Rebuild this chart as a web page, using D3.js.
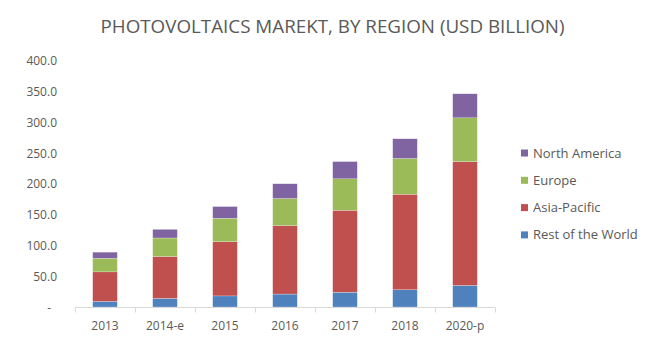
<!DOCTYPE html>
<html><head><meta charset="utf-8">
<script src="https://cdn.jsdelivr.net/npm/d3@7"></script>
<style>body{margin:0;background:#fff;}svg{display:block;font-family:"Open Sans",sans-serif;}</style>
</head><body>
<svg id="chart" width="647" height="358"></svg>
<script>
const categories = ["2013","2014-e","2015","2016","2017","2018","2020-p"];
const seriesNames = ["Rest of the World","Asia-Pacific","Europe","North America"];
const restOfWorld  = [9, 14, 18, 21, 24, 28, 35];
const asiaPacific  = [48, 68, 88, 111, 133, 155, 201];
const europe       = [22, 30, 38, 44, 51, 58, 71];
const northAmerica = [10, 14, 19, 24, 28, 32, 39];
const yTicks = [0, 50, 100, 150, 200, 250, 300, 350, 400];
const colors = ["#4F81BD","#C0504D","#9BBB59","#8064A2"];

const svg = d3.select("#chart");
const x = d3.scaleBand().domain(categories).range([75, 495]).paddingInner(0.59).paddingOuter(0.295);
const y = d3.scaleLinear().domain([0, 400]).range([307, 60.5]);

const table = categories.map((c, i) => ({cat: c,
  "Rest of the World": restOfWorld[i], "Asia-Pacific": asiaPacific[i],
  "Europe": europe[i], "North America": northAmerica[i]}));
const stacked = d3.stack().keys(seriesNames)(table);

svg.append("text").attr("x", 332.5).attr("y", 33).attr("text-anchor", "middle")
  .attr("font-size", 19).attr("fill", "#595959")
  .attr("textLength", 464).attr("lengthAdjust", "spacingAndGlyphs")
  .text("PHOTOVOLTAICS MAREKT, BY REGION (USD BILLION)");

// y axis labels
const yAxis = d3.axisLeft(y).tickValues(yTicks).tickSize(0)
  .tickFormat(d => d === 0 ? "-" : d3.format(".1f")(d));
const gy = svg.append("g").attr("transform", "translate(57,0)").call(yAxis);
gy.select(".domain").remove();
gy.selectAll("text").attr("font-size", 12).attr("fill", "#595959")
  .attr("font-family", "Open Sans").attr("x", d => d === 0 ? -6 : 0).attr("dy", "0.35em");

// bars
svg.append("g").selectAll("g").data(stacked).join("g")
  .attr("fill", (d, i) => colors[i])
  .selectAll("rect").data(d => d).join("rect")
  .attr("x", d => x(d.data.cat))
  .attr("width", x.bandwidth())
  .attr("y", d => y(d[1]))
  .attr("height", d => y(d[0]) - y(d[1]))
  .attr("stroke", "#ffffff").attr("stroke-width", 0.4).attr("stroke-opacity", 0.6);

// x axis
const xEdges = d3.scaleLinear().domain([0, categories.length]).range([75, 495]);
const gx = svg.append("g");
gx.append("line").attr("x1", 75).attr("x2", 495).attr("y1", 307.5).attr("y2", 307.5)
  .attr("stroke", "#D9D9D9").attr("stroke-width", 1);
gx.selectAll("line.tick").data(d3.range(categories.length + 1)).join("line")
  .attr("class", "tick")
  .attr("x1", d => Math.round(xEdges(d)) + 0.5).attr("x2", d => Math.round(xEdges(d)) + 0.5)
  .attr("y1", 307.5).attr("y2", 312.5).attr("stroke", "#D9D9D9");
const xAxis = d3.axisBottom(x).tickSize(0);
const gxl = svg.append("g").attr("transform", "translate(0,318)").call(xAxis);
gxl.select(".domain").remove();
gxl.selectAll("text").attr("font-size", 12).attr("fill", "#595959").attr("font-family", "Open Sans");

// legend
const legendItems = seriesNames.slice().reverse();
const lg = svg.append("g").selectAll("g").data(legendItems).join("g")
  .attr("transform", (d, i) => `translate(521,${153 + i * 27.3})`);
lg.append("rect").attr("x", 0).attr("y", -3.5).attr("width", 7).attr("height", 7)
  .attr("fill", d => colors[seriesNames.indexOf(d)]);
lg.append("text").attr("x", 12).attr("dy", "0.35em").attr("font-size", 13).attr("fill", "#595959")
  .text(d => d);
</script>
</body></html>
